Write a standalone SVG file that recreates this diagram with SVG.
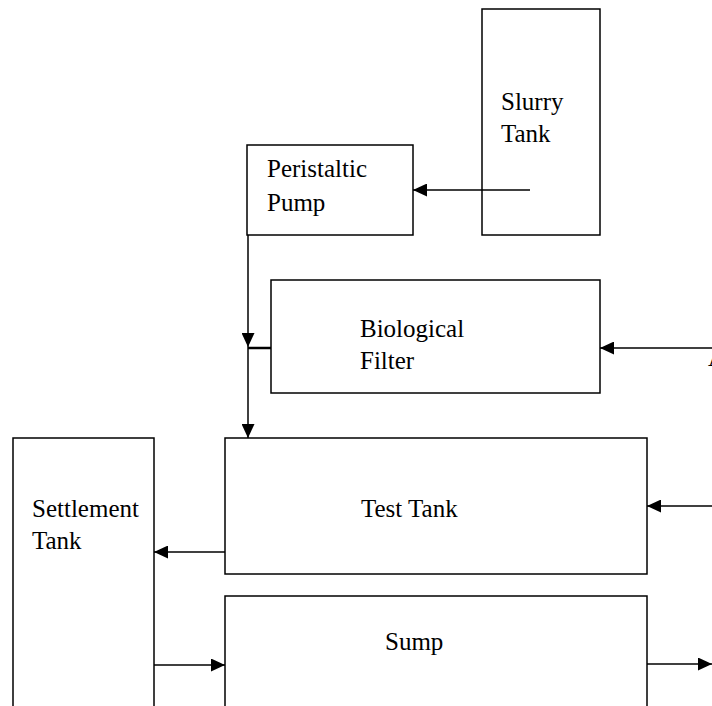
<svg xmlns="http://www.w3.org/2000/svg" width="712" height="706" viewBox="0 0 712 706">
<style>
.box{fill:#fff;stroke:#000;stroke-width:1.5}
.lbl{font-family:"Liberation Serif","Times New Roman",serif;font-size:25px;fill:#000}
.ln{stroke:#000;stroke-width:1.5;fill:none}
</style>
<defs>
<marker id="ah" viewBox="0 0 14 13" refX="14" refY="6.5" markerWidth="14" markerHeight="13" markerUnits="userSpaceOnUse" orient="auto">
<path d="M0,0 L14,6.5 L0,13 Z" fill="#000"/>
</marker>
</defs>
<rect width="712" height="706" fill="#fff"/>
<g id="slurry-tank">
<rect class="box" x="482" y="9" width="118" height="226"/>
<text class="lbl" x="501" y="110">Slurry</text>
<text class="lbl" x="501" y="142">Tank</text>
</g>
<g id="peristaltic-pump">
<rect class="box" x="247" y="145" width="166" height="90"/>
<text class="lbl" x="267" y="177">Peristaltic</text>
<text class="lbl" x="267" y="211">Pump</text>
</g>
<g id="biological-filter">
<rect class="box" x="271" y="280" width="329" height="113"/>
<text class="lbl" x="360" y="337">Biological</text>
<text class="lbl" x="360" y="369">Filter</text>
</g>
<g id="test-tank">
<rect class="box" x="225" y="438" width="422" height="136"/>
<text class="lbl" x="361" y="517">Test Tank</text>
</g>
<g id="settlement-tank">
<rect class="box" x="13" y="438" width="141" height="290"/>
<text class="lbl" x="32" y="517">Settlement</text>
<text class="lbl" x="32" y="549">Tank</text>
</g>
<g id="sump">
<rect class="box" x="225" y="596" width="422" height="130"/>
<text class="lbl" x="385" y="650">Sump</text>
</g>
<g id="connectors">
<line class="ln" x1="530" y1="190" x2="413" y2="190" marker-end="url(#ah)"/>
<line class="ln" x1="248" y1="235" x2="248" y2="347" marker-end="url(#ah)"/>
<line class="ln" x1="248" y1="347" x2="248" y2="438" marker-end="url(#ah)"/>
<line x1="248" y1="348" x2="271" y2="348" stroke="#000" stroke-width="2.5"/>
<line class="ln" x1="712" y1="348" x2="600" y2="348" marker-end="url(#ah)"/>
<line class="ln" x1="712" y1="506" x2="647" y2="506" marker-end="url(#ah)"/>
<line class="ln" x1="225" y1="552" x2="154" y2="552" marker-end="url(#ah)"/>
<line class="ln" x1="154" y1="665" x2="225" y2="665" marker-end="url(#ah)"/>
<line class="ln" x1="647" y1="664" x2="712" y2="664" marker-end="url(#ah)"/>
</g>
<text class="lbl" x="708" y="366">A</text>
</svg>
